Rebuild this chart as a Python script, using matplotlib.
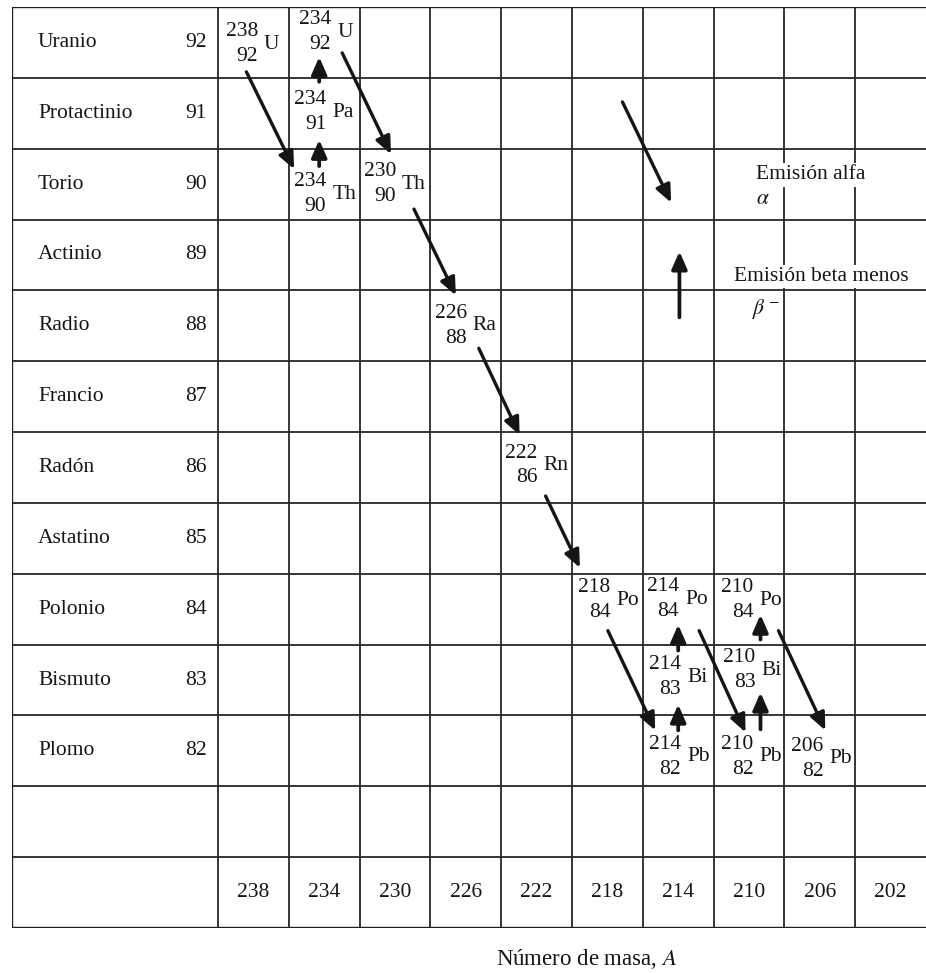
import matplotlib
matplotlib.use("Agg")
import matplotlib.pyplot as plt
from matplotlib.patches import FancyArrowPatch

plt.rcParams['font.family'] = ['Liberation Serif', 'DejaVu Serif']
plt.rcParams['mathtext.fontset'] = 'stix'

# table rows / columns
elements = ['Uranio', 'Protactinio', 'Torio', 'Actinio', 'Radio', 'Francio',
            'Radón', 'Astatino', 'Polonio', 'Bismuto', 'Plomo']
atomic_numbers = [92, 91, 90, 89, 88, 87, 86, 85, 84, 83, 82]
mass_numbers = [238, 234, 230, 226, 222, 218, 214, 210, 206, 202]

# nuclides of the chain
nuc_symbol = ['U', 'Th', 'Pa', 'U', 'Th', 'Ra', 'Rn', 'Po', 'Pb', 'Bi', 'Po', 'Pb', 'Bi', 'Po', 'Pb']
nuc_A = [238, 234, 234, 234, 230, 226, 222, 218, 214, 214, 214, 210, 210, 210, 206]
nuc_Z = [92, 90, 91, 92, 90, 88, 86, 84, 82, 83, 84, 82, 83, 84, 82]

# decays (parent, daughter) as indexes into the nuclide lists
alpha_decays = [(0, 1), (3, 4), (4, 5), (5, 6), (6, 7), (7, 8), (10, 11), (13, 14)]
beta_decays = [(1, 2), (2, 3), (8, 9), (9, 10), (11, 12), (12, 13)]

# layout tweaks in pixels (x right, y down), relative to the cell centre
label_nudge = [(1.5, 2), (-1, 10), (-1, -1), (4, -10), (-2, 0), (-2, 0), (-2, -2), (0, -9),
               (0, 6), (0, -3), (-2, -10), (1.5, 6), (3.5, -10), (1.5, -9), (0.5, 8)]
alpha_ends = [((-7, 29.5), (-30, -15)), ((18, 10.5), (-4, -30)), ((19, 25), (-10, -30.5)),
              ((13, 22.5), (-17, -32.5)), ((9, 28.5), (-27.5, -41.5)), ((0.5, 21.5), (-23, -20.5)),
              ((21, 21.5), (-3.5, -18.5)), ((29.5, 21.5), (5.5, -20.5))]
beta_ends = [((-5, -18), (-5, 26.5)), ((-5, -31.5), (-5, 14.5)), ((0, -20.5), (0, 24.5)),
             ((0, -29.5), (0, 15.5)), ((11.5, -21.5), (11.5, 12.5)), ((11.5, -40.5), (11.5, 5.5))]

INK = '#151515'
FS = 15.5
PX_A = 70.8 / 4     # pixels per mass unit
PX_Z = 70.85        # pixels per row

left_edge = mass_numbers[0] + 2 + 206 / PX_A
right_edge = mass_numbers[-1] - 2
top_edge = atomic_numbers[0] + 0.5
bottom_edge = atomic_numbers[-1] - 2.5


def shift(A, Z, d):
    return A - d[0] / PX_A, Z - d[1] / PX_Z


def arrow(ax, p0, p1, lw):
    ax.add_patch(FancyArrowPatch(p0, p1, arrowstyle='-|>,head_length=0.75,head_width=0.33',
                                 mutation_scale=14, lw=lw, color=INK,
                                 shrinkA=0, shrinkB=0, zorder=4))


fig = plt.figure(figsize=(9.26, 9.73), dpi=100)
ax = fig.add_axes([12 / 926, 45 / 973, 914 / 926, 921 / 973])
ax.set_xlim(left_edge, right_edge)
ax.set_ylim(bottom_edge, top_edge)
ax.axis('off')

# grid
col_lines = [m + 2 for m in mass_numbers]
row_lines = [z - 0.5 for z in atomic_numbers] + [80.5]
ax.vlines(col_lines, bottom_edge, top_edge, color='#262626', lw=1.3, zorder=1)
ax.hlines(row_lines, left_edge, right_edge, color='#262626', lw=1.3, zorder=1)
ax.vlines([left_edge], bottom_edge, top_edge, color='#1e1e1e', lw=1.7, zorder=1)
ax.hlines([top_edge, bottom_edge], left_edge, right_edge, color='#1e1e1e', lw=1.7, zorder=1)

# row labels
for name, z in zip(elements, atomic_numbers):
    ax.text(left_edge - 26 / PX_A, z, name, ha='left', va='center', fontsize=FS, color=INK)
    ax.text(mass_numbers[0] + 2 + 11 / PX_A, z, str(z), ha='right', va='center', fontsize=FS, color=INK)

# mass number row
for m in mass_numbers:
    ax.text(m, 80, str(m), ha='center', va='center', fontsize=FS, color=INK)

# nuclide labels
for sym, A, Z, (dx, dy) in zip(nuc_symbol, nuc_A, nuc_Z, label_nudge):
    ax.annotate(str(A), (A, Z), xytext=(3 + dx, 12.5 - dy), textcoords='offset pixels',
                ha='right', va='center', fontsize=FS, color=INK)
    ax.annotate(str(Z), (A, Z), xytext=(3 + dx, -12.5 - dy), textcoords='offset pixels',
                ha='right', va='center', fontsize=FS, color=INK)
    ax.annotate(sym, (A, Z), xytext=(9 + dx, -dy), textcoords='offset pixels',
                ha='left', va='center', fontsize=FS, color=INK)

# decay arrows
for (p, d), (s, e) in zip(alpha_decays, alpha_ends):
    arrow(ax, shift(nuc_A[p], nuc_Z[p], s), shift(nuc_A[d], nuc_Z[d], e), 2.4)
for (p, d), (s, e) in zip(beta_decays, beta_ends):
    arrow(ax, shift(nuc_A[p], nuc_Z[p], s), shift(nuc_A[d], nuc_Z[d], e), 2.7)

# key
arrow(ax, (217.15, 91.16), (214.4, 89.74), 2.4)
arrow(ax, (213.93, 88.12), (213.93, 89.05), 2.7)
box = dict(facecolor='white', edgecolor='none', pad=1.5)
ax.text(209.58, 90.13, 'Emisión alfa', ha='left', va='center', fontsize=FS, color=INK, bbox=box, zorder=3)
ax.text(209.58, 89.78, r'$\alpha$', ha='left', va='center', fontsize=FS, color=INK, zorder=3)
ax.text(210.82, 88.70, 'Emisión beta menos', ha='left', va='center', fontsize=FS, color=INK, bbox=box, zorder=3)
ax.text(209.81, 88.24, r'$\beta^-$', ha='left', va='center', fontsize=FS, color=INK, zorder=3)

fig.text(587 / 926, 1 - 959 / 973, 'Número de masa, $A$', ha='center', va='center',
         fontsize=16.5, color=INK)

fig.savefig('out.png', dpi=100, facecolor='white')
